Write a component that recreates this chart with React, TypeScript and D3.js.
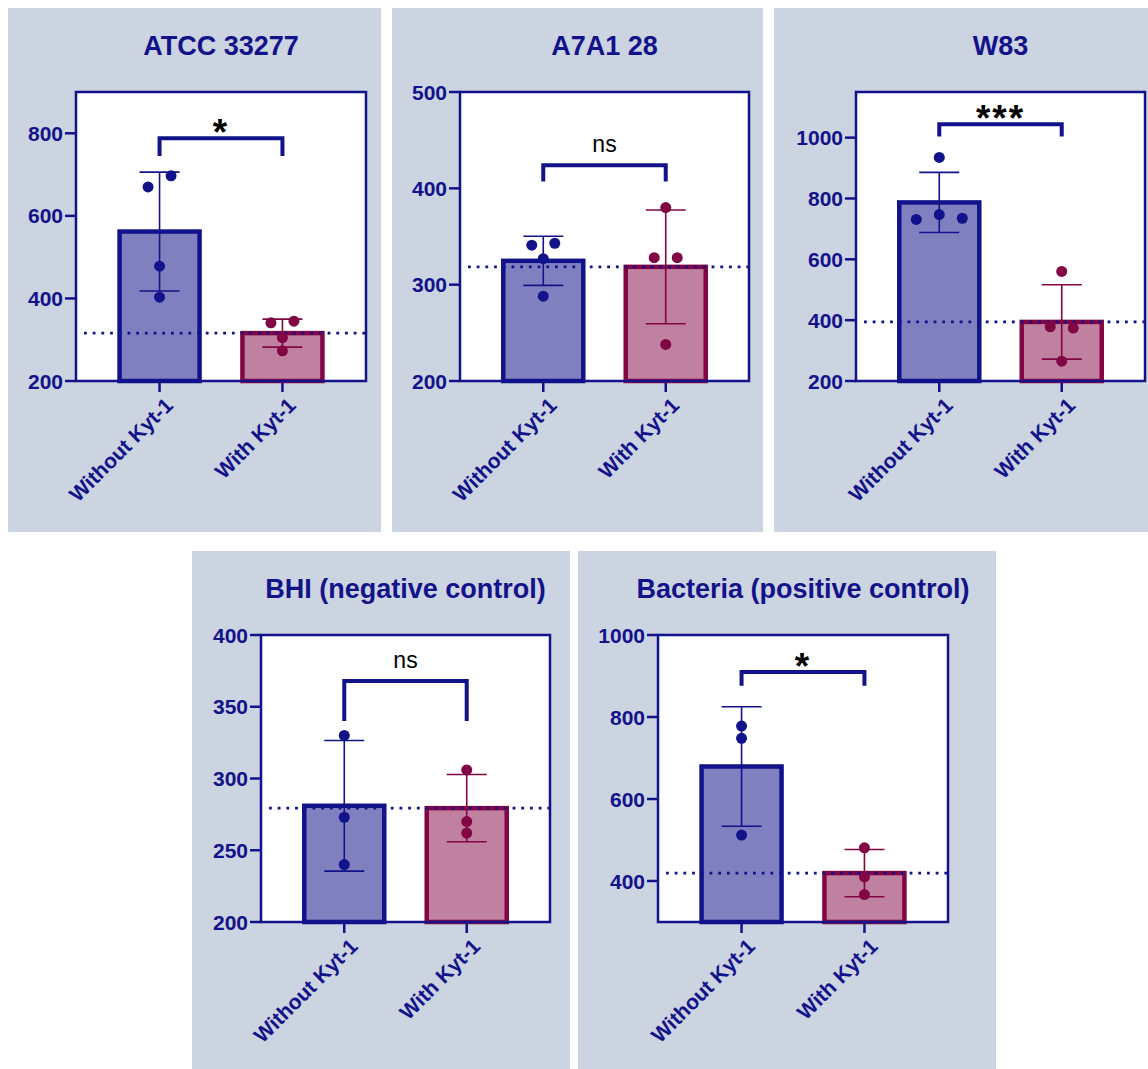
import * as d3 from "d3";
import React from "react";

// categories + raw points
const categories = ["Without Kyt-1", "With Kyt-1"];

const atccWithout = [670, 697, 478, 403];
const atccWith = [341, 345, 305, 273];
const a7a1Without = [341, 343, 327, 288];
const a7a1With = [380, 328, 328, 238];
const w83Without = [935, 731, 747, 735];
const w83With = [560, 378, 374, 265];
const bhiWithout = [330, 273, 240];
const bhiWith = [306, 270, 262];
const bactWithout = [778, 748, 512];
const bactWith = [481, 410, 367];

const titles = ["ATCC 33277", "A7A1 28", "W83", "BHI (negative control)", "Bacteria (positive control)"];
const yDomains = [[200, 900], [200, 500], [200, 1150], [200, 400], [300, 1000]];
const yTicks = [
  [200, 400, 600, 800],
  [200, 300, 400, 500],
  [200, 400, 600, 800, 1000],
  [200, 250, 300, 350, 400],
  [400, 600, 800, 1000],
];
const sigLabels = ["*", "ns", "***", "ns", "*"];
const bracketTop = [788, 424, 1044, 368, 910];
const bracketLeg = [745, 407, 1004, 340, 876];

const groups = [
  [atccWithout, atccWith],
  [a7a1Without, a7a1With],
  [w83Without, w83With],
  [bhiWithout, bhiWith],
  [bactWithout, bactWith],
];

// layout (page px)
const panels = [
  { bg: { x: 8, y: 8, w: 373, h: 524 }, plot: { x: 76, y: 92, w: 290, h: 289 }, titleY: 55 },
  { bg: { x: 392, y: 8, w: 371, h: 524 }, plot: { x: 460, y: 92, w: 289, h: 289 }, titleY: 55 },
  { bg: { x: 774, y: 8, w: 374, h: 524 }, plot: { x: 856, y: 92, w: 289, h: 289 }, titleY: 55 },
  { bg: { x: 192, y: 551, w: 378, h: 518 }, plot: { x: 261, y: 635, w: 289, h: 287 }, titleY: 598 },
  { bg: { x: 578, y: 551, w: 418, h: 518 }, plot: { x: 658, y: 635, w: 290, h: 287 }, titleY: 598 },
];

const NAVY = "#12128a";
const MAROON = "#820644";
const strokes = [NAVY, MAROON];
const fills = ["#8080c0", "#c080a0"];
const BG = "#ccd3e1";
const FONT = "'Liberation Sans', Arial, sans-serif";

// simple swarm: points that nearly overlap vertically share a row, centered, in data order
function swarm(vals, y) {
  const sorted = vals.map((v, i) => ({ v, i })).sort((a, b) => a.v - b.v);
  const out = new Array(vals.length).fill(0);
  let row = [];
  const flush = () => {
    row.sort((a, b) => a.i - b.i);
    row.forEach((p, k) => (out[p.i] = (k - (row.length - 1) / 2) * 23));
    row = [];
  };
  sorted.forEach((p) => {
    if (row.length && Math.abs(y(row[0].v) - y(p.v)) >= 11.3) flush();
    row.push(p);
  });
  flush();
  return out;
}

function Panel({ idx }) {
  const { bg, plot, titleY } = panels[idx];
  const y = d3.scaleLinear().domain(yDomains[idx]).range([plot.y + plot.h, plot.y]);
  const x = d3.scalePoint().domain(categories).range([plot.x, plot.x + plot.w]).padding(0.68);
  const bottom = plot.y + plot.h;
  const barW = 80;
  const refLine = d3.mean(groups[idx][1]);
  const bx0 = x(categories[0]);
  const bx1 = x(categories[1]);
  const bt = y(bracketTop[idx]);
  const bl = y(bracketLeg[idx]);
  const isStar = sigLabels[idx] !== "ns";

  return (
    <g>
      <rect x={bg.x} y={bg.y} width={bg.w} height={bg.h} fill={BG} />
      <text x={plot.x + plot.w / 2} y={titleY} textAnchor="middle" fontFamily={FONT}
        fontWeight="bold" fontSize={27} fill={NAVY}>{titles[idx]}</text>
      <rect x={plot.x} y={plot.y} width={plot.w} height={plot.h} fill="#fff" />

      {/* bars */}
      {categories.map((c, g) => {
        const m = d3.mean(groups[idx][g]);
        return (
          <rect key={c} x={x(c) - barW / 2} y={y(m)} width={barW} height={bottom - y(m)}
            fill={fills[g]} stroke={strokes[g]} strokeWidth={4.5} />
        );
      })}

      {/* dotted line at the treated mean */}
      <line x1={plot.x + 8} x2={plot.x + plot.w} y1={y(refLine)} y2={y(refLine)}
        stroke={NAVY} strokeWidth={2.8} strokeDasharray="2.8 5.9" />

      {/* error bars (mean ± SD) and points */}
      {categories.map((c, g) => {
        const vals = groups[idx][g];
        const m = d3.mean(vals);
        const sd = d3.deviation(vals);
        const cx = x(c);
        const off = swarm(vals, y);
        return (
          <g key={c} stroke={strokes[g]} fill={strokes[g]}>
            <line x1={cx} x2={cx} y1={y(m - sd)} y2={y(m + sd)} strokeWidth={1.6} />
            <line x1={cx - 20} x2={cx + 20} y1={y(m + sd)} y2={y(m + sd)} strokeWidth={1.6} />
            <line x1={cx - 20} x2={cx + 20} y1={y(m - sd)} y2={y(m - sd)} strokeWidth={1.6} />
            {vals.map((v, i) => (
              <circle key={i} cx={cx + off[i]} cy={y(v)} r={5.5} stroke="none" />
            ))}
          </g>
        );
      })}

      {/* frame */}
      <rect x={plot.x} y={plot.y} width={plot.w} height={plot.h} fill="none" stroke={NAVY} strokeWidth={2.5} />

      {/* y axis */}
      {yTicks[idx].map((t) => (
        <g key={t}>
          <line x1={plot.x - 11} x2={plot.x} y1={y(t)} y2={y(t)} stroke={NAVY} strokeWidth={2.5} />
          <text x={plot.x - 13} y={y(t)} dy="0.36em" textAnchor="end" fontFamily={FONT}
            fontWeight="bold" fontSize={21} fill={NAVY}>{t}</text>
        </g>
      ))}

      {/* x axis */}
      {categories.map((c) => (
        <g key={c}>
          <line x1={x(c)} x2={x(c)} y1={bottom} y2={bottom + 11} stroke={NAVY} strokeWidth={2.5} />
          <text transform={`translate(${x(c) + 4},${bottom + 15}) rotate(-45)`} dy="0.72em"
            textAnchor="end" fontFamily={FONT} fontWeight="bold" fontSize={21} fill={NAVY}>{c}</text>
        </g>
      ))}

      {/* significance bracket */}
      <path d={`M${bx0},${bl}V${bt}H${bx1}V${bl}`} fill="none" stroke={NAVY} strokeWidth={4} />
      <text x={(bx0 + bx1) / 2} y={isStar ? bt + 7 : bt - 13} textAnchor="middle" fontFamily={FONT}
        fontWeight={isStar ? "bold" : "normal"} fontSize={isStar ? 37 : 23}
        letterSpacing={isStar ? 2 : 0} fill="#000">{sigLabels[idx]}</text>
    </g>
  );
}

export default function App() {
  return (
    <div style={{ position: "absolute", left: 0, top: 0 }}>
      <svg width={1148} height={1069} style={{ display: "block", background: "#fff" }}>
        {panels.map((p, i) => (
          <Panel key={i} idx={i} />
        ))}
      </svg>
    </div>
  );
}
